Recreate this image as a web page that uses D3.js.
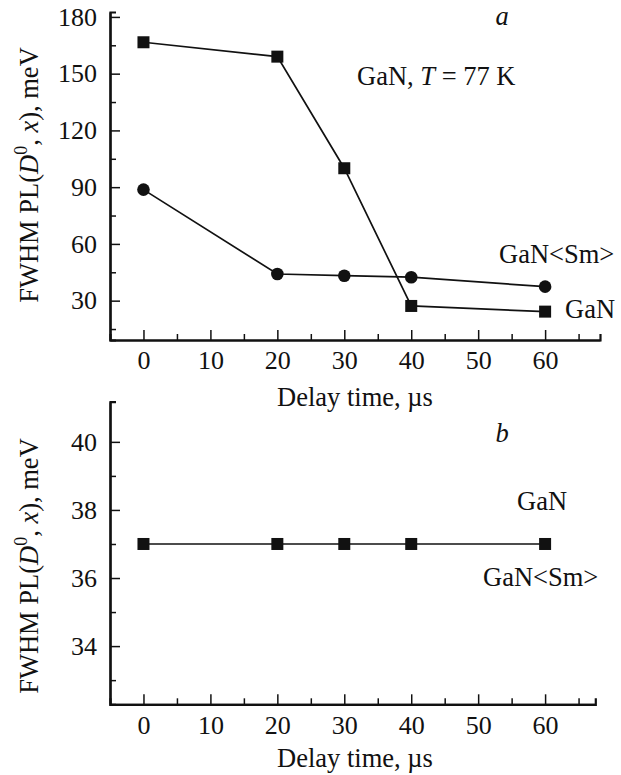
<!DOCTYPE html>
<html><head><meta charset="utf-8">
<script src="https://cdn.jsdelivr.net/npm/d3@7"></script>
<style>
body{margin:0;background:#fff;}
svg{display:block;}
</style></head>
<body><svg id="c" width="621" height="775"></svg>
<script>
// Data
const delay = [0, 20, 30, 40, 60];
const ganA = [166.6, 159, 100, 27.2, 24.2];
const ganSmA = [88.7, 44.1, 43.2, 42.4, 37.4];
const ganB = [37, 37, 37, 37, 37];
const xMajor = [0, 10, 20, 30, 40, 50, 60];
const xMinor = [5, 15, 25, 35, 45, 55, 65];
const yMajorA = [30, 60, 90, 120, 150, 180];
const yMinorA = [15, 45, 75, 105, 135, 165];
const yMajorB = [34, 36, 38, 40];
const yMinorB = [33, 35, 37, 39];

const FF = "Liberation Serif";
const svg = d3.select("#c").style("font-family", FF);
const FS = 26.5, FT = 26;

function panel(cfg) {
  const g = svg.append("g");
  const x = d3.scaleLinear().domain(cfg.xDomain).range(cfg.xRange);
  const y = d3.scaleLinear().domain(cfg.yDomain).range(cfg.yRange);
  const x0 = cfg.xRange[0], yb = cfg.yRange[0];

  const gxm = g.append("g").attr("transform", `translate(0,${yb})`)
    .call(d3.axisBottom(x).tickValues(xMinor).tickSize(-6).tickFormat(""));
  const gym = g.append("g").attr("transform", `translate(${x0},0)`)
    .call(d3.axisLeft(y).tickValues(cfg.yMinor).tickSize(-6).tickFormat(""));
  const gx = g.append("g").attr("transform", `translate(0,${yb})`)
    .call(d3.axisBottom(x).tickValues(xMajor).tickSize(-10).tickSizeOuter(0).tickPadding(11));
  const gy = g.append("g").attr("transform", `translate(${x0},0)`)
    .call(d3.axisLeft(y).tickValues(cfg.yMajor).tickSize(-10).tickSizeOuter(0).tickPadding(13));
  [gxm, gym, gx, gy].forEach(a => {
    a.attr("font-family", null).style("font-family", FF);
    a.selectAll("path.domain").attr("stroke", "#111").attr("stroke-width", 2.2);
    a.selectAll(".tick line").attr("stroke", "#111").attr("stroke-width", 1.5);
    a.selectAll("text").style("font-family", FF).attr("font-size", FT).attr("fill", "#111");
  });

  g.append("text").attr("x", 355).attr("y", cfg.xLabelY)
    .attr("text-anchor", "middle").attr("font-size", FS).attr("fill", "#111")
    .style("font-family", FF).text("Delay time, \u00b5s");

  const yl = g.append("text").attr("transform", `translate(38,${cfg.yLabelC}) rotate(-90)`)
    .attr("text-anchor", "middle").attr("font-size", FS).attr("fill", "#111").style("font-family", FF);
  yl.append("tspan").text("FWHM PL(");
  yl.append("tspan").attr("font-style", "italic").text("D");
  yl.append("tspan").attr("font-size", 18).attr("dy", -11).text("0");
  yl.append("tspan").attr("dy", 11).text(", ");
  yl.append("tspan").attr("font-style", "italic").text("x");
  yl.append("tspan").text("), meV");

  const line = d3.line().x(d => x(d[0])).y(d => y(d[1]));
  cfg.series.forEach(s => {
    const pts = delay.map((d, i) => [d, s.values[i]]);
    g.append("path").datum(pts).attr("d", line).attr("fill", "none")
      .attr("stroke", "#111").attr("stroke-width", 1.7);
    if (s.marker === "square") {
      g.selectAll(null).data(pts).enter().append("rect")
        .attr("x", d => x(d[0]) - 6).attr("y", d => y(d[1]) - 6)
        .attr("width", 12).attr("height", 12).attr("fill", "#111");
    } else {
      g.selectAll(null).data(pts).enter().append("circle")
        .attr("cx", d => x(d[0])).attr("cy", d => y(d[1])).attr("r", 6.3).attr("fill", "#111");
    }
  });

  cfg.labels.forEach(l => {
    const t = g.append("text").attr("x", l.x).attr("y", l.y).attr("font-size", FS)
      .attr("fill", "#111").attr("text-anchor", l.anchor || "start").style("font-family", FF);
    l.parts.forEach(p => t.append("tspan").attr("font-style", p.italic ? "italic" : null).text(p.t));
  });
}

panel({
  xDomain: [-5, 68.2], xRange: [110, 600],
  yDomain: [9.2, 182.6], yRange: [340, 12],
  yMajor: yMajorA, yMinor: yMinorA,
  xLabelY: 406, yLabelC: 175,
  series: [{values: ganA, marker: "square"}, {values: ganSmA, marker: "circle"}],
  labels: [
    {x: 502, y: 25, anchor: "middle", parts: [{t: "a", italic: true}]},
    {x: 357, y: 85, parts: [{t: "GaN, "}, {t: "T", italic: true}, {t: " = 77 K"}]},
    {x: 499, y: 263, parts: [{t: "GaN<Sm>"}]},
    {x: 565, y: 318, parts: [{t: "GaN"}]}
  ]
});

panel({
  xDomain: [-5, 67.5], xRange: [110, 595.3],
  yDomain: [32.29, 41.18], yRange: [704.3, 401.7],
  yMajor: yMajorB, yMinor: yMinorB,
  xLabelY: 767, yLabelC: 566,
  series: [{values: ganB, marker: "square"}],
  labels: [
    {x: 502, y: 442, anchor: "middle", parts: [{t: "b", italic: true}]},
    {x: 517, y: 510, parts: [{t: "GaN"}]},
    {x: 483, y: 586, parts: [{t: "GaN<Sm>"}]}
  ]
});
</script></body></html>
